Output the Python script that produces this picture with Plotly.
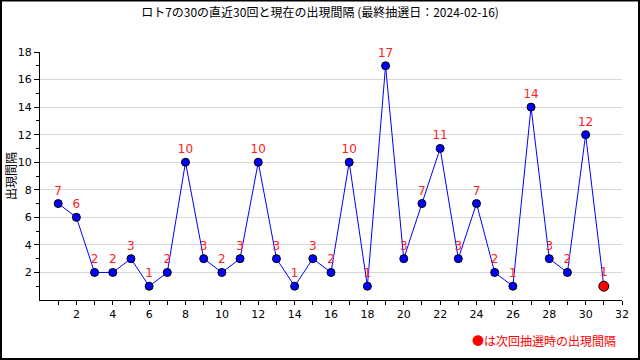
import plotly.graph_objects as go

draws = list(range(1, 31))
intervals = [7, 6, 2, 2, 3, 1, 2, 10, 3, 2, 3, 10, 3, 1, 3, 2, 10, 1, 17, 3, 7, 11, 3, 7, 2, 1, 14, 3, 2, 12]
next_draw = [31]
next_interval = [1]

title = "ロト7の30の直近30回と現在の出現間隔 (最終抽選日：2024-02-16)"
y_title = "出現間隔"
note = "●は次回抽選時の出現間隔"

jp = "Noto Sans CJK JP"
num = "DejaVu Sans"

L, R, T, B = 40, 18, 52, 60
PW, PH = 640 - L - R, 360 - T - B

fig = go.Figure()
fig.add_trace(go.Scatter(
    x=draws, y=intervals, mode="lines+markers+text",
    line=dict(color="#0000ff", width=1),
    marker=dict(color="#0000ff", size=8, line=dict(color="black", width=1)),
    text=[str(v) for v in intervals], textposition="top center",
    textfont=dict(color="#ff2020", size=12, family=num),
    cliponaxis=False, showlegend=False, hoverinfo="skip"))
fig.add_trace(go.Scatter(
    x=[draws[-1]] + next_draw, y=[intervals[-1]] + next_interval, mode="lines",
    line=dict(color="#0000ff", width=1), showlegend=False, hoverinfo="skip"))
fig.add_trace(go.Scatter(
    x=next_draw, y=next_interval, mode="markers+text",
    marker=dict(color="#ff0000", size=10, line=dict(color="black", width=1)),
    text=[str(v) for v in next_interval], textposition="top center",
    textfont=dict(color="#ff2020", size=12, family=num),
    cliponaxis=False, showlegend=False, hoverinfo="skip"))

fig.update_layout(
    width=640, height=360,
    margin=dict(l=L, r=R, t=T, b=B),
    paper_bgcolor="white", plot_bgcolor="white",
    title=dict(text=title, x=0.5, xanchor="center", y=1 - 13/360, yanchor="middle",
               font=dict(family=jp, size=12, color="black")),
    xaxis=dict(range=[0, 32], tickmode="array", tickvals=list(range(2, 33, 2)),
               automargin=False,
               showgrid=False, zeroline=False, showline=True, linecolor="black",
               ticks="outside", ticklen=4, tickcolor="black",
               minor=dict(tickmode="array", tickvals=list(range(1, 32, 2)), ticks="outside", ticklen=4, tickcolor="black"),
               tickfont=dict(family=num, size=11, color="black")),
    yaxis=dict(range=[0, 18], tickmode="array", tickvals=list(range(2, 19, 2)),
               automargin=False,
               showgrid=True, gridcolor="#d8d8d8", zeroline=False, showline=True, linecolor="black",
               ticks="outside", ticklen=5, tickcolor="black",
               minor=dict(tickmode="array", tickvals=list(range(1, 18, 2)), ticks="outside", ticklen=3, tickcolor="black"),
               tickfont=dict(family=num, size=11, color="black")),
    font=dict(family=jp),
)
fig.add_annotation(text=y_title, xref="paper", yref="paper", x=-30/PW, y=0.5, xanchor="center", yanchor="middle",
                   textangle=-90, showarrow=False, font=dict(family=jp, size=12, color="black"))
fig.add_annotation(text=note, xref="paper", yref="paper", x=1 - 4/PW, y=-40/PH, xanchor="right", yanchor="middle",
                   showarrow=False, font=dict(family=jp, size=12, color="#ff0000"))
fig.add_shape(type="rect", xref="paper", yref="paper",
              x0=-(L - 1)/PW, x1=1 + (R - 1)/PW, y0=-(B - 1)/PH, y1=1 + (T - 0.5)/PH,
              line=dict(color="black", width=2), layer="below")
fig.write_html("out.html", config={"displayModeBar": False},
               post_script="document.body.style.margin='0px';document.body.style.overflow='hidden';")
